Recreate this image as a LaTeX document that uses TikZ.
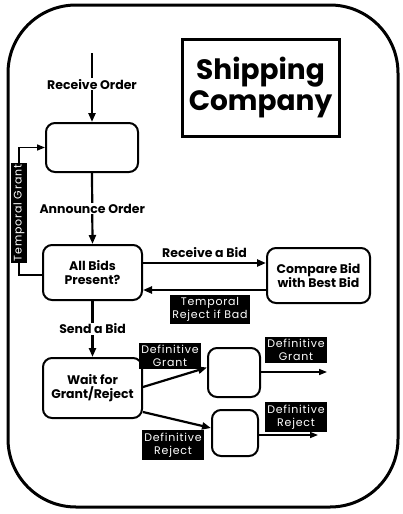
\documentclass[tikz,border=0pt]{standalone}
\usepackage{fontspec}
\setmainfont{Poppins}
\usetikzlibrary{arrows.meta,calc}
\newcommand{\blkfont}{\fontsize{11}{13}\selectfont\addfontfeatures{LetterSpace=7}}
\begin{document}
\begin{tikzpicture}[x=1pt,y=-1pt,
  box/.style={draw,line width=2pt,rounded corners=9pt,align=center,inner sep=1pt,font=\fontsize{12.5}{13.5}\selectfont\bfseries},
  arr/.style={line width=2.2pt,-{Triangle[length=9pt,width=7pt]}},
  tarr/.style={line width=1.5pt,-{Triangle[length=8pt,width=6pt]}},
  lbl/.style={fill=white,inner sep=1pt,font=\fontsize{12.5}{14}\selectfont\bfseries},
  blk/.style={fill=black,text=white,inner xsep=2pt,inner ysep=2.5pt,align=center,font=\blkfont}]
\useasboundingbox (0,0) rectangle (403,514);
\draw[line width=3pt,rounded corners=68pt] (8,5) rectangle (398,507);
\node[draw,line width=3pt,minimum width=157pt,minimum height=97pt,align=center,inner sep=0pt,font=\fontsize{28}{31}\selectfont\bfseries] (title) at (260.5,87.5) {Shipping\\Company};
\node[box,minimum width=92pt,minimum height=49pt] (b1) at (92,147.5) {};
\node[box,minimum width=99pt,minimum height=55pt] (b2) at (92.5,272.5) {All Bids\\Present?};
\node[box,minimum width=103pt,minimum height=55pt] (b3) at (318.5,275.5) {Compare Bid\\with Best Bid};
\node[box,minimum width=99pt,minimum height=60pt] (b4) at (92.5,388) {Wait for\\Grant/Reject};
\node[box,minimum width=52pt,minimum height=49pt] (b5) at (234,372.5) {};
\node[box,minimum width=46pt,minimum height=46pt] (b6) at (235,433) {};
\coordinate (start) at (92,53);
\draw[arr] (start) -- (b1.north) node[lbl,pos=0.45] {Receive Order};
\draw[arr] (b1.south) -- (b2.north) node[lbl,pos=0.5] {Announce Order};
\draw[arr] (b2.south) -- (b4.north) node[lbl,pos=0.5] {Send a Bid};
\coordinate (rb) at ([yshift=9.5pt]b2.east);
\draw[arr] (rb) -- (rb -| b3.west) node[midway,above=1pt,font=\fontsize{12.5}{14}\selectfont\bfseries] {Receive a Bid};
\coordinate (tr) at ([yshift=-14.5pt]b3.west);
\draw[arr] (tr) -- (tr -| b2.east);
\node[blk] (trl) at (210,309) {Temporal\\Reject if Bad};
\coordinate (tg) at (19,213);
\draw[tarr] ([yshift=-2.5pt]b2.west) -| (tg) |- (b1.west);
\node[blk,rotate=90] (tgl) at (tg) {Temporal Grant};
\draw[arr] ([yshift=1pt]b4.east) -- ([yshift=5pt]b5.west);
\node[blk] (dg1) at (170,356) {Definitive\\Grant};
\draw[arr] ([yshift=-24pt]b4.east) -- ([yshift=5pt]b6.west);
\node[blk] (dr1) at (173,445) {Definitive\\Reject};
\coordinate (e1) at (327,372);
\coordinate (e2) at (318,435);
\draw[tarr] (b5.east |- e1) -- (e1);
\node[blk] (dg2) at (296,350) {Definitive\\Grant};
\draw[tarr] (b6.east |- e2) -- (e2);
\node[blk] (dr2) at (296,417) {Definitive\\Reject};
\end{tikzpicture}
\end{document}
